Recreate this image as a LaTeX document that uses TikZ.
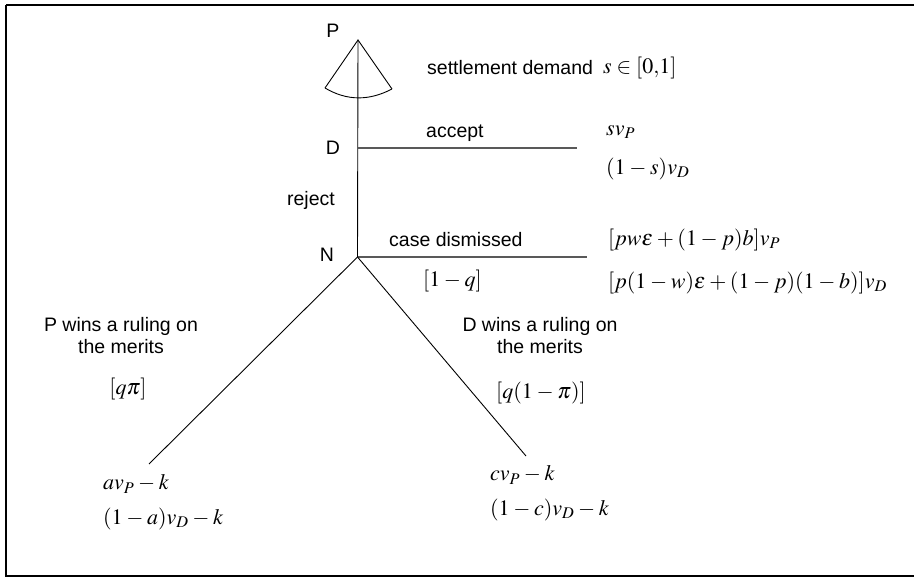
\documentclass[tikz,border=0pt]{standalone}
\usepackage{mathptmx}
\usepackage[no-math]{fontspec}
\setmainfont{Liberation Sans}
\newcommand\mymathsetup{\fontsize{22}{26}\selectfont\medmuskip=3mu\relax\thickmuskip=4mu\relax}
\begin{document}
\begin{tikzpicture}[x=1pt,y=-1pt,
  txt/.style={font=\fontsize{19.5}{22}\selectfont, inner sep=0pt, align=center},
  mth/.style={font=\mymathsetup, inner sep=0pt, anchor=west},
  branch/.style={draw=black, line width=0.9pt},
  hbranch/.style={draw=black!65, line width=1.8pt},
  frame/.style={draw=black, line width=2pt}]
\useasboundingbox (0,0) rectangle (914,577);
\draw[frame] (6,5) -- (920,5) (6,5) -- (6,576) -- (920,576);

% tree points
\coordinate (p) at (358,40);
\coordinate (fl) at (325,88);
\coordinate (fr) at (392,89);
\coordinate (d) at (358,148);
\coordinate (n) at (357.5,257);
\coordinate (dend) at (577,148);
\coordinate (nend) at (587,257);
\coordinate (l) at (149,464);
\coordinate (r) at (526,456);

% player labels
\node[txt] (lp) at (333,31) {P};
\node[txt] (ld) at (333,148) {D};
\node[txt] (ln) at (327,255) {N};

% fan
\draw[branch] (fl) -- (p) -- (fr);
\draw[branch] (fl) .. controls (347,101) and (369,101) .. (fr);

% stem and branches
\draw[branch] (p) -- (n);
\draw[hbranch] (d) -- (dend);
\draw[hbranch] (n) -- (nend);
\draw[branch] (n) -- (l);
\draw[branch] (n) -- (r);

% action labels
\node[txt, anchor=west] (sd) at (427,68) {settlement demand};
\node[mth] (sin) at (603,68) {$s\in[0{,}1]$};
\node[txt, anchor=west] (acc) at (426,133) {accept};
\node[txt] (rej) at (311,200) {reject};
\node[txt, anchor=west] (cd) at (389,240) {case dismissed};
\node[mth] (omq) at (423,281) {$[1-q]$};
\node[txt] (pw) at (121,336) {P wins a ruling on\\the merits};
\node[txt] (dw) at (540,336) {D wins a ruling on\\the merits};
\node[mth, anchor=center] (qpi) at (128,389) {$[q\pi]$};
\node[mth, anchor=center] (qopi) at (541,393) {$[q(1-\pi)]$};

% payoffs
\node[mth] (a1) at (606,132) {$sv_P$};
\node[mth] (a2) at (606,169) {$(1-s)v_D$};
\node[mth] (b1) at (608,240) {$[pw\epsilon+(1-p)b]v_P$};
\node[mth] (b2) at (608,283) {$[p(1-w)\epsilon+(1-p)(1-b)]v_D$};
\node[mth] (c1) at (103,484) {$av_P-k$};
\node[mth] (c2) at (103,519) {$(1-a)v_D-k$};
\node[mth] (e1) at (490,475) {$cv_P-k$};
\node[mth] (e2) at (490,510) {$(1-c)v_D-k$};
\end{tikzpicture}
\end{document}
